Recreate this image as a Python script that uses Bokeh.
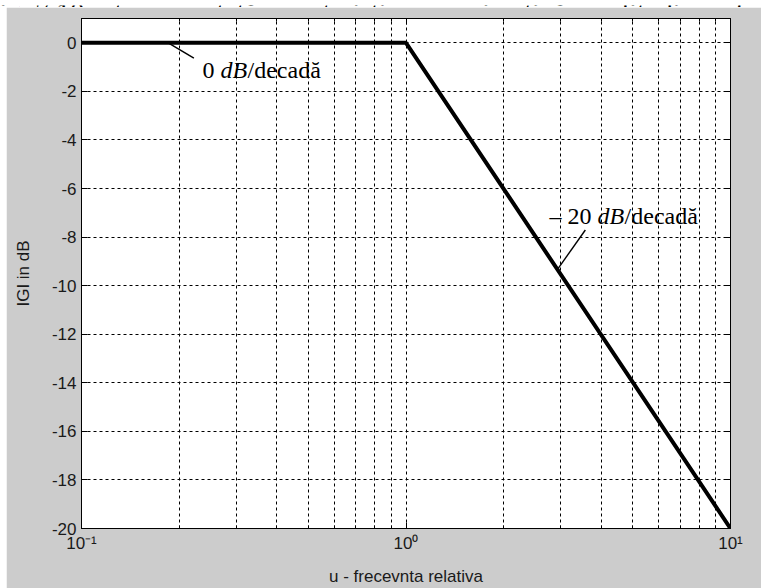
from bokeh.plotting import figure
from bokeh.models import FixedTicker, LinearAxis, LogAxis, Range1d, Spacer, Label
from bokeh.layouts import column, row
from bokeh.core.properties import value
from bokeh.embed import file_html
from bokeh.resources import INLINE

# ---- data ----
u_pts = [0.1, 1.0, 10.0]          # relative frequency
g_db = [0.0, 0.0, -20.0]          # asymptotic |G| in dB
y_ticks = [0, -2, -4, -6, -8, -10, -12, -14, -16, -18, -20]
x_major = [0.1, 1.0, 10.0]
x_minor = [0.2, 0.3, 0.4, 0.5, 0.6, 0.7, 0.8, 0.9, 2, 3, 4, 5, 6, 7, 8, 9]
x_tick_labels = ["10\u207b\u00b9", "10\u2070", "10\u00b9"]
caption = "ig. 7.10 este prezentat\u0103 caracteristica aproximativ\u0103 amplitudine \u2013 fr"
ann1_parts = ["0 ", "dB", "/decad\u0103"]
ann2_parts = ["\u2013 20 ", "dB", "/decad\u0103"]

GRAY = "#cccccc"
SANS = "Liberation Sans"
SERIF = "Liberation Serif"

# ---- caption strip (clipped top line of page text) ----
cap = figure(width=761, height=7, x_range=Range1d(0, 761), y_range=Range1d(0, 7),
             output_backend="svg", toolbar_location=None,
             x_axis_location=None, y_axis_location=None,
             min_border=0, background_fill_color="white", border_fill_color="white",
             outline_line_color=None)
cap.grid.visible = False
cap.text(x=[-1], y=[1], text=[caption], text_font=value(SERIF), text_font_size="28px",
         text_baseline="alphabetic", text_align="left", text_color="black")

# ---- main plot ----
p = figure(width=755, height=581, x_axis_type="log",
           x_range=Range1d(0.1, 10), y_range=Range1d(-20, 1),
           output_backend="svg", toolbar_location=None,
           min_border_left=75, min_border_right=31, min_border_top=11, min_border_bottom=60,
           background_fill_color="white", border_fill_color=GRAY,
           outline_line_color="black", outline_line_width=1)

xt = FixedTicker(ticks=x_major, minor_ticks=x_minor)
yt = FixedTicker(ticks=y_ticks)


def style_axis(ax):
    ax.axis_line_color = "black"
    ax.major_tick_line_color = "black"
    ax.minor_tick_line_color = "black"
    ax.major_tick_in = 6
    ax.major_tick_out = 0
    ax.minor_tick_in = 3
    ax.minor_tick_out = 0
    ax.major_label_text_font = SANS
    ax.major_label_text_font_size = "17px"
    ax.major_label_text_color = "#1a1a1a"
    ax.axis_label_text_font = SANS
    ax.axis_label_text_font_size = "17px"
    ax.axis_label_text_font_style = "normal"
    ax.axis_label_text_color = "#1a1a1a"


for ax in p.xaxis:
    ax.ticker = xt
    ax.major_label_overrides = {v: s for v, s in zip(x_major, x_tick_labels)}
for ax in p.yaxis:
    ax.ticker = yt
    ax.major_label_overrides = {v: str(v) for v in y_ticks}

for ax in p.xaxis + p.yaxis:
    style_axis(ax)
p.xaxis.major_label_standoff = 5
p.yaxis.major_label_standoff = 5
p.yaxis.minor_tick_line_color = None
p.xaxis.axis_label = "u - frecevnta relativa"
p.yaxis.axis_label = "IGI in dB"
p.xaxis.axis_label_standoff = 11
p.yaxis.axis_label_standoff = 16

# box ticks on top and right (no labels)
top = LogAxis(ticker=xt)
style_axis(top)
top.major_label_text_color = None
top.major_label_text_font_size = "1px"
top.major_label_standoff = 0
p.add_layout(top, "above")

right = LinearAxis(ticker=yt)
style_axis(right)
right.major_label_text_color = None
right.major_label_text_font_size = "1px"
right.major_label_standoff = 0
right.minor_tick_line_color = None
p.add_layout(right, "right")

for g in p.xgrid:
    g.ticker = xt
    g.grid_line_color = "black"
    g.grid_line_dash = "3 3"
    g.grid_line_width = 1
    g.minor_grid_line_color = "black"
    g.minor_grid_line_dash = "3 3"
    g.minor_grid_line_width = 1
for g in p.ygrid:
    g.ticker = yt
    g.grid_line_color = "black"
    g.grid_line_dash = "3 3"
    g.grid_line_width = 1

# asymptotic characteristic
p.line(u_pts, g_db, line_color="black", line_width=4)

# leader lines for annotations
p.line([0.185, 0.222], [0.0, -0.63], line_color="black", line_width=1.4)
p.line([3.57, 2.93], [-7.71, -9.33], line_color="black", line_width=1.4)


def annot(x, y, parts, offsets):
    for txt, off in zip(parts, offsets):
        p.add_layout(Label(x=x, y=y, x_offset=off, text=txt,
                           text_font=SERIF, text_font_size="24px",
                           text_font_style="italic" if txt == "dB" else "normal",
                           text_baseline="alphabetic", text_align="left",
                           text_color="black"))


annot(0.236, -1.14, ann1_parts, [0, 18, 45])
annot(2.77, -7.15, ann2_parts, [0, 48, 75])

layout = column(cap, row(Spacer(width=6, height=581), p))
open("out.html", "w").write(file_html(layout, INLINE))
